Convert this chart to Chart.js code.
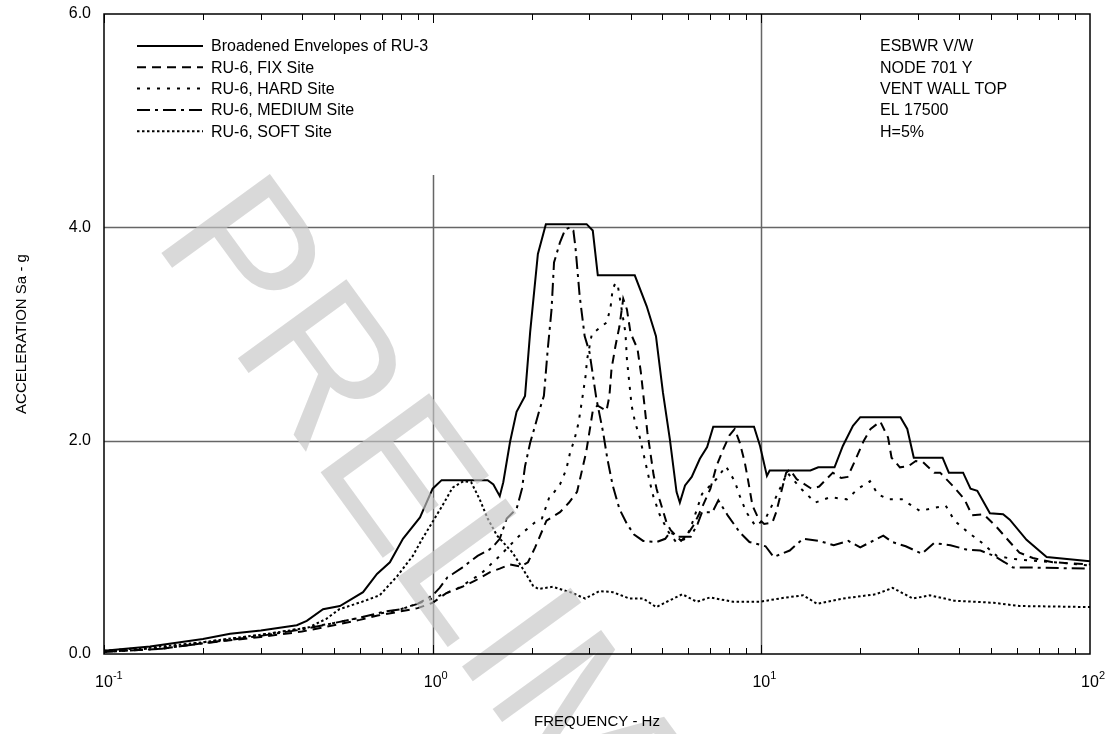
<!DOCTYPE html>
<html>
<head>
<meta charset="utf-8">
<script src="https://cdn.jsdelivr.net/npm/chart.js@4.4.0/dist/chart.umd.min.js"></script>
<style>
  html, body { margin: 0; padding: 0; background: #fff; }
</style>
</head>
<body>
<canvas id="chart" width="1113" height="734"></canvas>
<script>
// ---- data ----
const envFreq = [0.1, 0.138, 0.2, 0.242, 0.3, 0.386, 0.414, 0.464, 0.522, 0.614, 0.677, 0.741, 0.812, 0.915, 1.0, 1.065, 1.47, 1.53, 1.60, 1.64, 1.72, 1.80, 1.91, 1.98, 2.09, 2.21, 2.94, 3.07, 3.18, 4.12, 4.48, 4.78, 5.02, 5.27, 5.52, 5.65, 5.86, 6.14, 6.50, 6.84, 7.14, 9.50, 9.91, 10.4, 10.6, 14.1, 14.9, 16.7, 17.7, 19.0, 20.0, 26.5, 27.8, 29.1, 35.6, 37.2, 41.1, 43.3, 45.4, 49.6, 54.4, 57.0, 64.1, 73.8, 100];
const envAcc  = [0.03, 0.07, 0.14, 0.19, 0.22, 0.27, 0.31, 0.42, 0.45, 0.58, 0.75, 0.86, 1.08, 1.28, 1.55, 1.63, 1.63, 1.59, 1.48, 1.61, 1.99, 2.27, 2.42, 3.02, 3.75, 4.03, 4.03, 3.97, 3.55, 3.55, 3.26, 2.98, 2.45, 2.01, 1.52, 1.42, 1.58, 1.66, 1.83, 1.94, 2.13, 2.13, 1.95, 1.67, 1.72, 1.72, 1.75, 1.75, 1.95, 2.14, 2.22, 2.22, 2.11, 1.84, 1.84, 1.70, 1.70, 1.55, 1.53, 1.32, 1.31, 1.26, 1.07, 0.91, 0.87];

const fixFreq = [0.1, 0.15, 0.2, 0.3, 0.4, 0.5, 0.6, 0.68, 0.8, 0.9, 1.0, 1.1, 1.23, 1.35, 1.5, 1.6, 1.72, 1.85, 1.95, 2.05, 2.22, 2.44, 2.6, 2.75, 2.93, 3.02, 3.07, 3.17, 3.38, 3.45, 3.5, 3.6, 3.7, 3.8, 3.9, 4.0, 4.2, 4.3, 4.4, 4.5, 4.6, 4.7, 4.8, 4.9, 5.15, 5.3, 5.7, 5.96, 6.2, 6.46, 6.7, 7.0, 7.3, 7.66, 8.0, 8.3, 8.6, 8.9, 9.1, 9.4, 9.8, 10.2, 10.8, 11.1, 11.5, 11.9, 12.2, 12.8, 14.2, 15.0, 16.5, 17.5, 18.3, 19.2, 20.5, 21.5, 23.0, 24.3, 24.9, 26.4, 28.0, 29.5, 31.0, 33.6, 35.0, 38.7, 41.5, 43.8, 47.5, 52.0, 57.0, 61.0, 67.0, 77.0, 100];
const fixAcc  = [0.02, 0.05, 0.10, 0.16, 0.21, 0.27, 0.32, 0.36, 0.40, 0.43, 0.48, 0.57, 0.63, 0.69, 0.77, 0.80, 0.84, 0.82, 0.86, 1.00, 1.25, 1.33, 1.42, 1.52, 1.89, 2.14, 2.28, 2.33, 2.28, 2.42, 2.67, 2.89, 3.07, 3.33, 3.23, 3.01, 2.86, 2.64, 2.36, 2.08, 1.88, 1.68, 1.55, 1.45, 1.23, 1.16, 1.06, 1.12, 1.20, 1.31, 1.42, 1.55, 1.76, 1.92, 2.05, 2.11, 1.98, 1.80, 1.64, 1.39, 1.27, 1.22, 1.23, 1.33, 1.52, 1.70, 1.73, 1.64, 1.55, 1.57, 1.70, 1.65, 1.66, 1.80, 2.00, 2.11, 2.18, 2.03, 1.84, 1.75, 1.76, 1.81, 1.80, 1.70, 1.70, 1.56, 1.45, 1.30, 1.31, 1.19, 1.05, 0.95, 0.90, 0.86, 0.84];

const hardFreq = [0.1, 0.15, 0.2, 0.3, 0.4, 0.5, 0.6, 0.8, 1.0, 1.2, 1.4, 1.6, 1.85, 2.04, 2.15, 2.27, 2.32, 2.44, 2.55, 2.62, 2.7, 2.78, 2.87, 2.92, 2.95, 3.05, 3.2, 3.39, 3.48, 3.53, 3.6, 3.66, 3.75, 3.86, 3.9, 4.03, 4.13, 4.27, 4.37, 4.58, 4.69, 4.9, 5.2, 5.5, 5.9, 6.2, 6.6, 7.3, 7.8, 8.3, 8.6, 9.0, 9.6, 10.3, 11.0, 12.0, 13.2, 14.6, 16.2, 18.2, 19.7, 21.4, 22.6, 24.3, 26.8, 30.4, 33.4, 36.4, 38.7, 42.6, 46.6, 52.0, 58.5, 70, 85, 100];
const hardAcc  = [0.02, 0.06, 0.11, 0.18, 0.24, 0.29, 0.34, 0.42, 0.52, 0.62, 0.75, 0.92, 1.12, 1.23, 1.27, 1.48, 1.50, 1.59, 1.73, 1.89, 2.01, 2.17, 2.45, 2.61, 2.76, 3.00, 3.05, 3.11, 3.26, 3.42, 3.48, 3.45, 3.25, 3.01, 2.76, 2.33, 2.17, 2.03, 1.89, 1.61, 1.48, 1.31, 1.15, 1.05, 1.08, 1.25, 1.50, 1.64, 1.76, 1.62, 1.48, 1.33, 1.20, 1.27, 1.45, 1.70, 1.55, 1.42, 1.47, 1.45, 1.55, 1.62, 1.50, 1.45, 1.45, 1.34, 1.37, 1.39, 1.25, 1.14, 1.05, 0.92, 0.89, 0.87, 0.85, 0.83];

const medFreq = [0.1, 0.15, 0.2, 0.3, 0.4, 0.5, 0.6, 0.72, 0.8, 0.9, 1.0, 1.05, 1.11, 1.15, 1.23, 1.37, 1.49, 1.55, 1.6, 1.68, 1.8, 1.87, 1.91, 1.98, 2.05, 2.11, 2.18, 2.24, 2.3, 2.34, 2.44, 2.53, 2.62, 2.68, 2.72, 2.8, 2.9, 3.0, 3.15, 3.3, 3.4, 3.53, 3.7, 3.9, 4.1, 4.37, 4.8, 5.1, 5.27, 5.6, 6.1, 6.4, 6.6, 7.1, 7.4, 7.9, 8.6, 9.2, 10.3, 10.9, 12.2, 13.4, 15.0, 16.6, 18.4, 20.0, 23.5, 25.0, 27.5, 30.8, 33.5, 37.6, 42.0, 46.4, 51.0, 55.0, 58.3, 68.6, 100];
const medAcc  = [0.02, 0.05, 0.10, 0.17, 0.23, 0.29, 0.34, 0.40, 0.42, 0.47, 0.55, 0.62, 0.72, 0.75, 0.81, 0.92, 0.98, 1.03, 1.08, 1.27, 1.36, 1.55, 1.76, 1.98, 2.14, 2.28, 2.42, 2.86, 3.23, 3.67, 3.86, 3.98, 4.00, 3.97, 3.81, 3.36, 2.98, 2.83, 2.39, 2.08, 1.83, 1.58, 1.36, 1.22, 1.12, 1.06, 1.05, 1.08, 1.14, 1.10, 1.10, 1.22, 1.33, 1.33, 1.44, 1.30, 1.14, 1.05, 1.01, 0.91, 0.97, 1.08, 1.06, 1.02, 1.06, 1.00, 1.11, 1.05, 1.01, 0.94, 1.04, 1.02, 0.98, 0.97, 0.92, 0.86, 0.81, 0.81, 0.80];

const softFreq = [0.1, 0.15, 0.2, 0.25, 0.3, 0.35, 0.42, 0.475, 0.52, 0.61, 0.69, 0.78, 0.87, 0.93, 1.0, 1.07, 1.15, 1.24, 1.31, 1.39, 1.47, 1.57, 1.75, 1.88, 2.02, 2.1, 2.32, 2.62, 2.91, 3.22, 3.53, 3.97, 4.37, 4.79, 5.16, 5.75, 6.36, 6.98, 8.2, 9.9, 11.9, 13.4, 14.8, 17.7, 22.3, 25.1, 28.9, 32.6, 38.6, 50.9, 61, 100];
const softAcc  = [0.03, 0.07, 0.11, 0.15, 0.18, 0.21, 0.25, 0.33, 0.42, 0.49, 0.55, 0.73, 0.92, 1.08, 1.24, 1.39, 1.56, 1.62, 1.61, 1.45, 1.27, 1.11, 0.95, 0.80, 0.64, 0.61, 0.63, 0.58, 0.52, 0.59, 0.58, 0.52, 0.52, 0.44, 0.49, 0.56, 0.49, 0.53, 0.49, 0.49, 0.53, 0.55, 0.47, 0.52, 0.56, 0.62, 0.52, 0.55, 0.50, 0.48, 0.45, 0.44];

const seriesNames = ['Broadened Envelopes of RU-3', 'RU-6, FIX Site', 'RU-6, HARD Site', 'RU-6, MEDIUM Site', 'RU-6, SOFT Site'];
const noteLines = ['ESBWR V/W', 'NODE 701 Y', 'VENT WALL TOP', 'EL 17500', 'H=5%'];
const yTicks = [0, 2, 4, 6];
const xDecades = [-1, 0, 1, 2];

const FONT = '"Liberation Sans", Arial, Helvetica, sans-serif';
const dashes = [[], [9, 6], [3, 7], [13, 5, 3, 5], [2.5, 2.5]];

function pts(fs, vs) {
  return fs.map((f, i) => ({ x: f, y: vs[i] }));
}

const allData = [
  pts(envFreq, envAcc),
  pts(fixFreq, fixAcc),
  pts(hardFreq, hardAcc),
  pts(medFreq, medAcc),
  pts(softFreq, softAcc)
];

// gridlines, legend, labels, ticks, watermark
const decor = {
  id: 'decor',
  beforeDatasetsDraw(chart) {
    const { ctx, chartArea: a, scales: { x, y } } = chart;
    ctx.save();
    ctx.strokeStyle = '#666';
    ctx.lineWidth = 1.5;
    [2, 4].forEach(v => {
      const py = Math.round(y.getPixelForValue(v)) + 0.5;
      ctx.beginPath(); ctx.moveTo(a.left, py); ctx.lineTo(a.right, py); ctx.stroke();
    });
    [1, 10].forEach(v => {
      const px = Math.round(x.getPixelForValue(v)) + 0.5;
      ctx.beginPath(); ctx.moveTo(px, a.top); ctx.lineTo(px, a.bottom); ctx.stroke();
    });
    // legend box hides the grid behind it
    ctx.fillStyle = '#fff';
    ctx.fillRect(a.left + 1, a.top + 1, x.getPixelForValue(1) + 4 - a.left, 160);
    ctx.restore();
  },
  afterDatasetsDraw(chart) {
    const { ctx, chartArea: a, scales: { x, y } } = chart;
    ctx.save();

    // watermark
    ctx.save();
    ctx.fillStyle = 'rgba(197,197,197,0.65)';
    ctx.font = '195px ' + FONT;
    ctx.textBaseline = 'alphabetic';
    ctx.translate(152, 240);
    ctx.rotate(54 * Math.PI / 180);
    ctx.fillText('PRELIMINARY', 0, 0);
    ctx.restore();

    // legend
    ctx.font = '16px ' + FONT;
    ctx.textBaseline = 'middle';
    ctx.fillStyle = '#000';
    seriesNames.forEach((name, i) => {
      const ry = 46 + i * 21.3;
      ctx.strokeStyle = '#000';
      ctx.lineWidth = 2;
      ctx.setLineDash(dashes[i]);
      ctx.beginPath(); ctx.moveTo(137, ry); ctx.lineTo(203, ry); ctx.stroke();
      ctx.setLineDash([]);
      ctx.fillText(name, 211, ry + 1);
    });

    // notes on the right
    noteLines.forEach((t, i) => ctx.fillText(t, 880, 46 + i * 21.3 + 1));

    // minor ticks, top and bottom, pointing inward
    ctx.strokeStyle = '#000';
    ctx.lineWidth = 1;
    for (let d = -1; d < 2; d++) {
      for (let m = 1; m <= 9; m++) {
        const v = m * Math.pow(10, d);
        const px = Math.round(x.getPixelForValue(v)) + 0.5;
        const len = m === 1 ? 9 : 6;
        ctx.beginPath();
        ctx.moveTo(px, a.bottom); ctx.lineTo(px, a.bottom - len);
        ctx.moveTo(px, a.top); ctx.lineTo(px, a.top + len);
        ctx.stroke();
      }
    }

    // frame
    ctx.lineWidth = 1.5;
    ctx.strokeRect(a.left, a.top, a.right - a.left, a.bottom - a.top);

    // y tick labels
    ctx.font = '16px ' + FONT;
    ctx.textAlign = 'right';
    yTicks.forEach(v => ctx.fillText(v.toFixed(1), a.left - 13, y.getPixelForValue(v)));

    // x tick labels 10^n
    ctx.textAlign = 'left';
    ctx.textBaseline = 'alphabetic';
    xDecades.forEach(n => {
      const px = x.getPixelForValue(Math.pow(10, n));
      ctx.font = '16px ' + FONT;
      const w = ctx.measureText('10').width;
      ctx.fillText('10', px - w / 2, a.bottom + 33);
      ctx.font = '11px ' + FONT;
      ctx.fillText(String(n), px + w / 2, a.bottom + 25);
    });

    // axis titles
    ctx.font = '15px ' + FONT;
    ctx.textAlign = 'center';
    ctx.textBaseline = 'middle';
    ctx.fillText('FREQUENCY - Hz', (a.left + a.right) / 2, 722);
    ctx.translate(22, (a.top + a.bottom) / 2);
    ctx.rotate(-Math.PI / 2);
    ctx.fillText('ACCELERATION Sa - g', 0, 0);
    ctx.restore();
  }
};

new Chart(document.getElementById('chart'), {
  type: 'line',
  data: {
    datasets: allData.map((d, i) => ({
      label: seriesNames[i],
      data: d,
      borderColor: '#000',
      borderWidth: 2,
      borderDash: dashes[i],
      borderCapStyle: 'butt',
      pointRadius: 0,
      tension: 0,
      fill: false
    }))
  },
  options: {
    responsive: false,
    animation: false,
    devicePixelRatio: 1,
    layout: { padding: { left: 104, right: 23, top: 14, bottom: 80 } },
    plugins: { legend: { display: false }, tooltip: { enabled: false } },
    scales: {
      x: { type: 'logarithmic', min: 0.1, max: 100, display: false },
      y: { type: 'linear', min: 0, max: 6, display: false }
    }
  },
  plugins: [decor]
});
</script>
</body>
</html>
